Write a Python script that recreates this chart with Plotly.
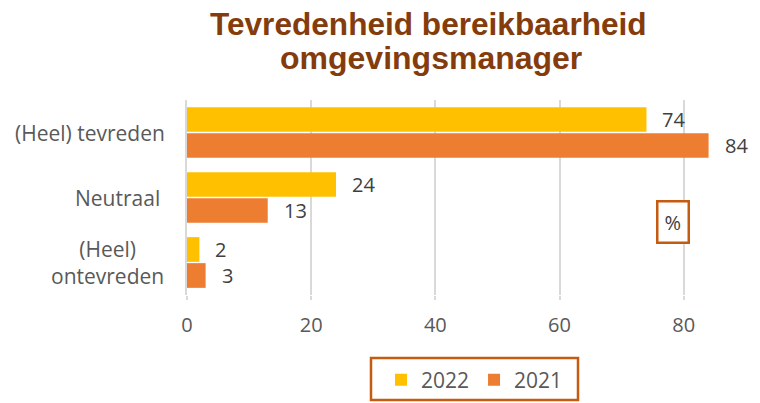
import plotly.graph_objects as go

categories = ["(Heel) tevreden", "Neutraal", "(Heel) ontevreden"]
cat_labels = ["(Heel) tevreden", "Neutraal", "(Heel)<br>ontevreden"]
values_2022 = [74, 24, 2]
values_2021 = [84, 13, 3]
x_ticks = [0, 20, 40, 60, 80]
title_lines = ["Tevredenheid bereikbaarheid", "omgevingsmanager"]

W, H = 760, 403
L, R, T, B = 187, 39, 100, 108
PW, PH = W - L - R, H - T - B
FONT = "Open Sans"


def px(x):
    return (x - L) / PW


def py(y):
    return (H - B - y) / PH


fig = go.Figure()
fig.add_trace(go.Bar(
    y=categories, x=values_2022, name="2022", orientation="h",
    marker_color="#FFC000", marker_line_width=0,
))
fig.add_trace(go.Bar(
    y=categories, x=values_2021, name="2021", orientation="h",
    marker_color="#ED7D31", marker_line_width=0,
))

# data labels
for series, offset in ((values_2022, -0.2), (values_2021, 0.2)):
    for i, v in enumerate(series):
        fig.add_annotation(
            x=v, xref="x", y=i + offset, yref="y", text=str(v), showarrow=False,
            xanchor="left", yanchor="middle", xshift=14,
            font=dict(size=20, color="#404040", family=FONT),
        )

# category labels (centered multi-line)
label_pos = [(167, "right"), (162, "right"), (107, "center")]
for i, (lab, (lx, anc)) in enumerate(zip(cat_labels, label_pos)):
    fig.add_annotation(
        x=px(lx), xref="paper", y=i, yref="y",
        text=lab, showarrow=False,
        xanchor=anc, yanchor="middle", align="center",
        font=dict(size=21, color="#595959", family=FONT),
    )

# title lines
for txt, cx, cy, fs in ((title_lines[0], 428, 24, 31.6), (title_lines[1], 431, 58, 32)):
    fig.add_annotation(
        x=px(cx), xref="paper", y=py(cy), yref="paper", text="<b>" + txt + "</b>",
        showarrow=False, xanchor="center", yanchor="middle",
        font=dict(size=fs, color="#843C0C", family="Liberation Sans"),
    )

# percent box
fig.add_annotation(
    x=px(673), xref="paper", y=py(222), yref="paper",
    text="%", showarrow=False, xanchor="center", yanchor="middle",
    font=dict(size=20, color="#404040", family=FONT),
    bordercolor="#C55A11", borderwidth=2.5, borderpad=6, bgcolor="white",
)

# legend box
fig.add_shape(
    type="rect", xref="paper", yref="paper",
    x0=px(371), x1=px(578), y0=py(400), y1=py(358),
    line=dict(color="#C55A11", width=2.5), layer="above",
)

fig.update_layout(
    width=W, height=H,
    margin=dict(l=L, r=R, t=T, b=B, autoexpand=False),
    paper_bgcolor="white", plot_bgcolor="white",
    barmode="group", bargap=0.2, bargroupgap=0.05,
    showlegend=True,
    legend=dict(
        orientation="h", x=px(381), xanchor="left",
        y=py(380), yanchor="middle",
        font=dict(size=21, color="#595959", family=FONT),
        bgcolor="rgba(0,0,0,0)", itemwidth=30, traceorder="normal",
    ),
    xaxis=dict(
        range=[0, 86], tickvals=x_ticks, showgrid=True, gridcolor="#D9D9D9", gridwidth=1.5,
        zeroline=False, showline=False, ticks="outside", ticklen=4, tickcolor="#D9D9D9",
        tickwidth=1.5,
        tickfont=dict(size=20, color="#595959", family=FONT), ticklabelstandoff=8,
        fixedrange=True,
    ),
    yaxis=dict(
        autorange="reversed", showticklabels=False, showgrid=False,
        showline=True, linecolor="#D9D9D9", linewidth=1.5, ticks="",
        fixedrange=True,
    ),
)

fig.write_html(
    "out.html",
    config={"displayModeBar": False},
    post_script="document.body.style.margin='0';document.body.style.padding='0';",
)
